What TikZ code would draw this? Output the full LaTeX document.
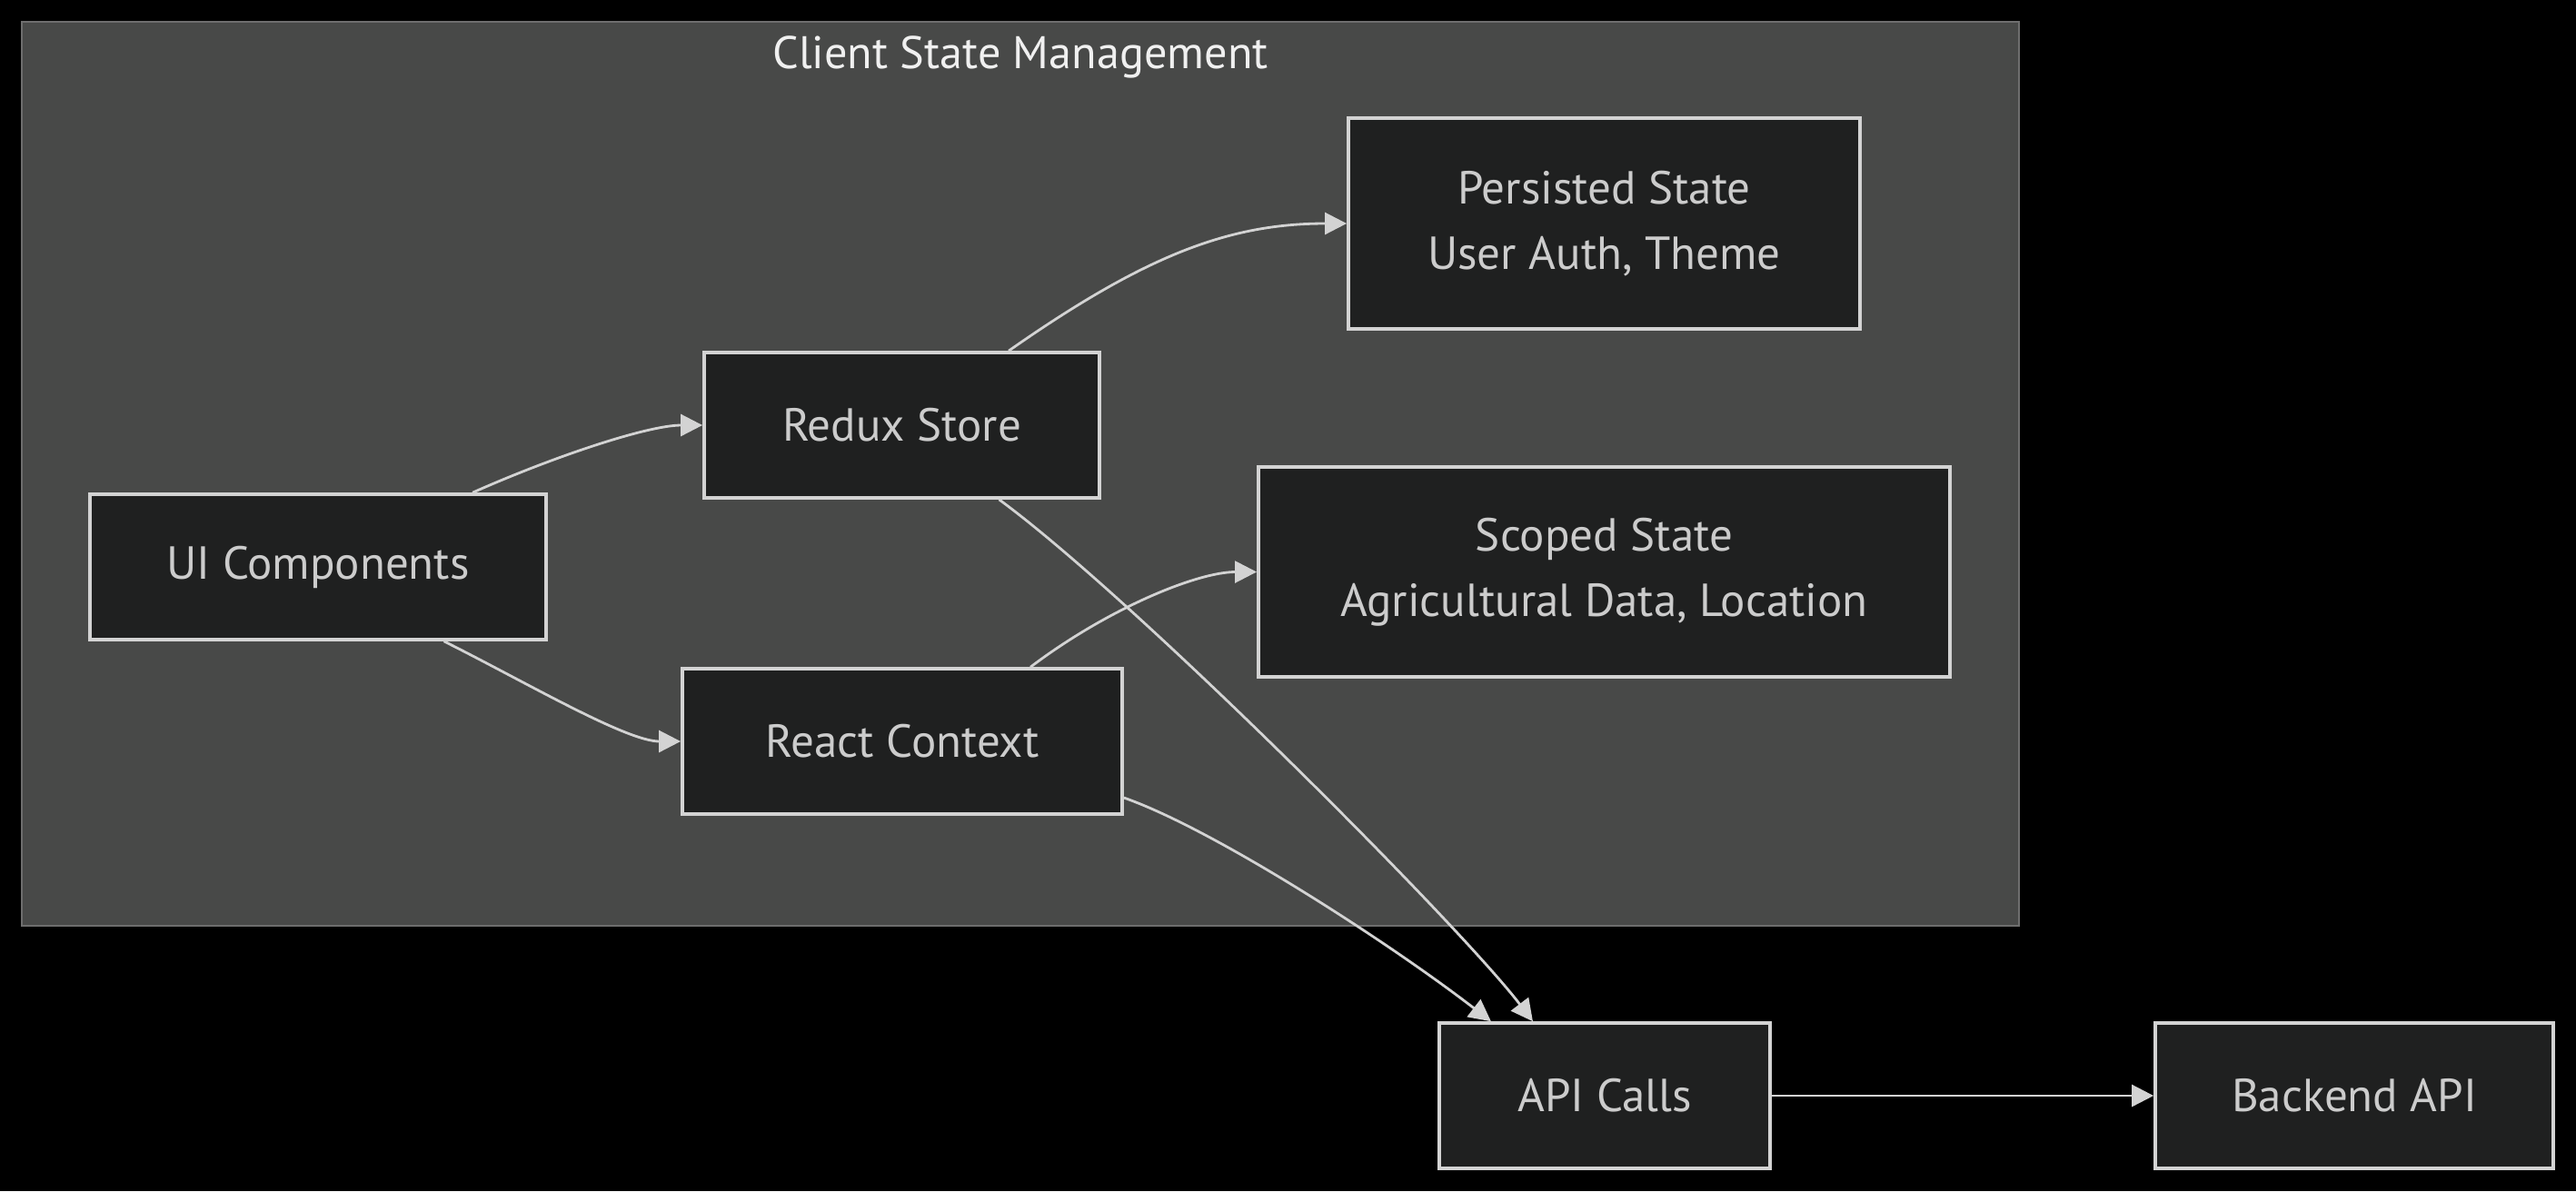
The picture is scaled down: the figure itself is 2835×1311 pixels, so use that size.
\documentclass[tikz,border=0pt]{standalone}
\usepackage{fontspec}
\setmainfont{PT Sans}
\usepackage{xcolor}
\usepackage{tikz}
\usetikzlibrary{arrows.meta}

\definecolor{bgcol}{RGB}{0,0,0}
\definecolor{clustercol}{RGB}{72,73,72}
\definecolor{clusterline}{RGB}{110,110,110}
\definecolor{boxcol}{RGB}{31,32,32}
\definecolor{linecol}{RGB}{211,211,211}
\definecolor{textcol}{RGB}{204,204,204}
\definecolor{titlecol}{RGB}{240,240,240}

\tikzset{
	box/.style={draw=linecol,fill=boxcol,line width=1pt,inner sep=0pt,text=textcol,align=center,
		font=\fontsize{14.5pt}{20.5pt}\selectfont},
	arr/.style={draw=linecol,line width=0.8pt,-{Triangle[length=0.24cm,width=0.24cm]}}
}

\begin{document}
\begin{tikzpicture}[x=0.01cm,y=-0.01cm]
					\fill[bgcol] (0,0) rectangle (2835,1311);
					\useasboundingbox (0,0) rectangle (2835,1311);
					\filldraw[fill=clustercol,draw=clusterline,line width=0.8pt] (24,24) rectangle (2222,1019);
					\node[text=titlecol,font=\fontsize{14.3pt}{16pt}\selectfont](title) at (1123,63){Client State Management};
					
					\node[box,minimum width=5.02cm,minimum height=1.6cm](ui) at (350,624){UI Components};
					\node[box,minimum width=4.35cm,minimum height=1.6cm](redux) at (992.5,468){Redux Store};
					\node[box,minimum width=4.84cm,minimum height=1.6cm](react) at (993,816){React Context};
					\node[box,minimum width=5.63cm,minimum height=2.32cm](persisted) at (1765.5,246){Persisted State\\User Auth, Theme};
					\node[box,minimum width=7.61cm,minimum height=2.31cm](scoped) at (1765.5,629.5){Scoped State\\Agricultural Data, Location};
					\node[box,minimum width=3.64cm,minimum height=1.6cm](api) at (1766,1206){API Calls};
					\node[box,minimum width=4.38cm,minimum height=1.6cm](backend) at (2591,1206){Backend API};
					
					\draw[arr] ([xshift=1.70cm]ui.north) .. controls +(90,-40) and +(-60,0) .. (redux.west);
					\draw[arr] ([xshift=1.385cm]ui.south) .. controls +(90,45) and +(-60,0) .. (react.west);
					\draw[arr] ([xshift=1.175cm]redux.north) .. controls +(150,-105) and +(-130,0) .. (persisted.west);
					\draw[arr] ([xshift=1.41cm]react.north) .. controls +(86,-65) and +(-65,0) .. (scoped.west);
					\draw[arr] ([xshift=1.07cm]redux.south) .. controls +(150,110) and +(-80,-105) .. ([xshift=-0.79cm]api.north);
					\draw[arr] ([yshift=-0.62cm]react.east) .. controls +(100,35) and +(-110,-85) .. ([xshift=-1.25cm]api.north);
					\draw[arr] (api) -- (backend);
				\end{tikzpicture}
\end{document}
